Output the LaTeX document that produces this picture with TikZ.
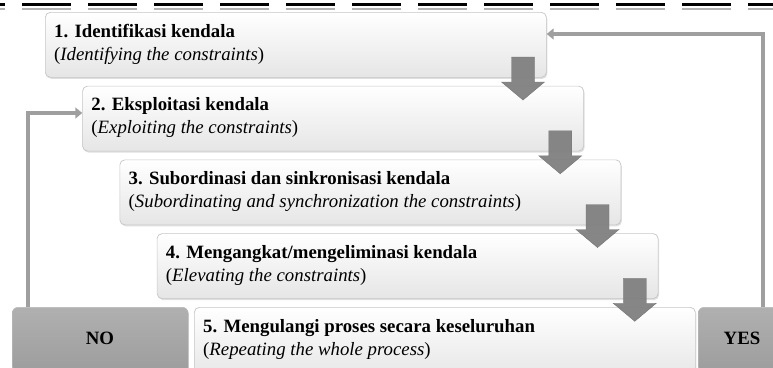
\documentclass[tikz,border=0pt]{standalone}
\usepackage{fontspec}
\setmainfont{Liberation Serif}
\usetikzlibrary{calc,shadows,arrows.meta}
\begin{document}
\begin{tikzpicture}[x=1pt,y=-1pt,
  stepbox/.style={draw=gray!45,line width=0.7pt,rounded corners=5pt,top color=white,bottom color=gray!20,
    minimum width=501pt,minimum height=65pt,anchor=north west,inner sep=0pt,
    drop shadow={opacity=0.25,shadow xshift=1pt,shadow yshift=-1.5pt}},
  decbox/.style={draw=gray!55,line width=0.5pt,rounded corners=6pt,top color=gray!62,bottom color=gray!78,
    anchor=north west,inner sep=0pt,minimum height=70pt},
  titletxt/.style={anchor=base west,inner sep=0pt,font=\fontsize{18.8}{23.5}\selectfont\bfseries},
  subtxt/.style={anchor=base west,inner sep=0pt,font=\fontsize{18.8}{23.5}\selectfont},
  dectxt/.style={inner sep=0pt,font=\fontsize{18.8}{23.5}\selectfont\bfseries},
  downarrow/.style={fill=gray!100!black,fill opacity=0.95,draw=black!55,line width=0.4pt},
  fb/.style={draw=gray!75,line width=4pt,-{Triangle[length=7pt,width=11pt]}}]
\useasboundingbox (0,0) rectangle (773,367);
\clip (0,0) rectangle (773,367);
% top dashed rule
\draw[line width=3.5pt,dash pattern=on 49pt off 17pt,dash phase=44pt] (0,4.5) -- (773,4.5);
\draw[gray!60,line width=2pt,dash pattern=on 49pt off 17pt,dash phase=44pt] (0,8.5) -- (773,8.5);
% side boxes
\node[decbox,minimum width=176pt] (nobox) at (12,307) {};
\node[dectxt] (notxt) at (100,338) {NO};
\node[decbox,minimum width=90pt] (yesbox) at (698,307) {};
\node[dectxt] (yestxt) at (742,338) {YES};
% step boxes
\node[stepbox] (b1) at (45,12) {};
\node[stepbox] (b2) at (82.25,85.75) {};
\node[stepbox] (b3) at (119.5,159.5) {};
\node[stepbox] (b4) at (156.75,233.25) {};
\node[stepbox,minimum height=72pt] (b5) at (194,307) {};
% texts
\node[titletxt] (t1a) at ($(b1.north west)+(9,25)$) {1. Identifikasi kendala};
\node[subtxt] (t1b) at ($(b1.north west)+(9,48)$) {(\textit{Identifying the constraints})};
\node[titletxt] (t2a) at ($(b2.north west)+(9,25)$) {2. Eksploitasi kendala};
\node[subtxt] (t2b) at ($(b2.north west)+(9,48)$) {(\textit{Exploiting the constraints})};
\node[titletxt] (t3a) at ($(b3.north west)+(9,25)$) {3. Subordinasi dan sinkronisasi kendala};
\node[subtxt] (t3b) at ($(b3.north west)+(9,48)$) {(\textit{Subordinating and synchronization the constraints})};
\node[titletxt] (t4a) at ($(b4.north west)+(9,25)$) {4. Mengangkat/mengeliminasi kendala};
\node[subtxt] (t4b) at ($(b4.north west)+(9,48)$) {(\textit{Elevating the constraints})};
\node[titletxt] (t5a) at ($(b5.north west)+(9,25)$) {5. Mengulangi proses secara keseluruhan};
\node[subtxt] (t5b) at ($(b5.north west)+(9,48)$) {(\textit{Repeating the whole process})};
% block arrows between steps
\foreach \b in {b1,b2,b3,b4}{
  \coordinate (c) at ($(\b.north west)+(478,45)$);
  \draw[downarrow] ($(c)+(-11.5,0)$) -- ($(c)+(11.5,0)$) -- ($(c)+(11.5,25)$) -- ($(c)+(21.5,25)$)
    -- ($(c)+(0,43)$) -- ($(c)+(-21.5,25)$) -- ($(c)+(-11.5,25)$) -- cycle;
}
% feedback connectors
\coordinate (yturn) at (763,34);
\draw[fb] (yesbox.north -| yturn) -- (yturn) -- (yturn -| b1.east);
\coordinate (nturn) at (28,113);
\draw[fb] (nobox.north -| nturn) -- (nturn) -- (nturn -| b2.west);
\end{tikzpicture}
\end{document}
